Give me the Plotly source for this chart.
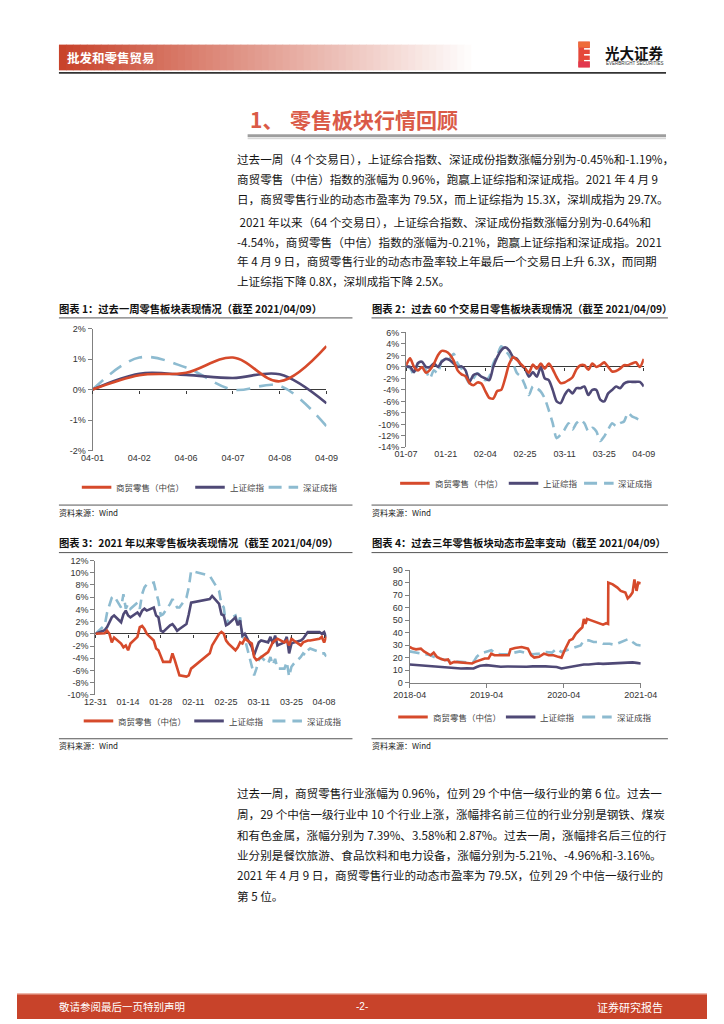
import plotly.graph_objects as go

W, H = 724, 1024
def X(px): return px / W
def Y(py): return 1 - py / H

RED = '#D64A2B'
PURPLE = '#4F4976'
BLUE = '#8DBBD0'
CJK = 'Noto Sans CJK SC'
NUM = 'Liberation Sans, Arial'

# ---------------- data ----------------
series_names = ['商贸零售（中信）', '上证综指', '深证成指']

# chart 1: past week (%)
c1_labels = ['04-01', '04-02', '04-06', '04-07', '04-08', '04-09']
c1_retail = [0.0, 0.47, 0.55, 1.05, 0.27, 1.42]
c1_sh = [0.0, 0.52, 0.48, 0.38, 0.50, -0.45]
c1_sz = [0.0, 1.05, 0.72, 0.0, 0.12, -1.20]

# chart 2: past 60 trading days (%), index 0 = 01-07
c2_tick_idx = [0, 10, 20, 30, 40, 50, 60]
c2_tick_labels = ['01-07', '01-21', '02-04', '02-25', '03-11', '03-25', '04-09']
c2_retail = [0.3, 1.5, 0.0, -0.6, 0.0, -1.0, -0.5, 0.5, 2.0, 2.8,
             2.7, 2.2, 1.1, -0.6, -1.3, -1.6, -2.8, -3.2, -2.7, -2.9,
             -4.2, -5.4, -5.5, -4.2, -4.0, -2.0, 0.5, 1.7, 1.2, 0.5,
             -0.2, -1.0, 0.4, -0.3, 0.6, -0.3, 0.6, -0.4, -1.8, -2.8,
             -2.7, -2.3, -1.8, -0.4, 0.3, 0.3, -0.5, 0.6, 0.0, 0.3,
             0.8, 0.0, -0.8, -0.7, -0.3, 0.3, 0.3, 0.6, 0.8, 0.0, 1.4]
c2_sh = [0.1, 0.0, -0.9, 0.7, 0.9, 0.0, 0.0, 0.6, 0.0, 0.9,
         1.4, 1.2, 0.6, 0.0, 0.1, -0.6, -2.6, -1.4, -1.2, -1.7,
         -2.0, -2.3, 0.0, 1.7, 2.9, 3.4, 2.9, 1.7, 1.4, 0.3,
         -0.3, -1.7, -0.9, -1.7, 0.0, -2.0, -2.3, -4.0, -6.0, -6.3,
         -4.9, -4.0, -4.6, -3.7, -3.7, -3.4, -4.9, -4.0, -4.0, -5.7,
         -6.0, -4.6, -4.0, -3.4, -3.7, -2.9, -2.6, -2.6, -2.6, -2.6, -3.4]
c2_sz = [0.1, -0.2, -1.4, 0.6, 0.6, -0.6, -2.0, -0.6, -1.1, 1.1,
         1.1, 1.4, 2.3, 0.6, -0.3, -1.7, -2.9, -2.0, -1.1, -1.7,
         -2.3, -1.7, 0.6, 2.0, 3.6, 2.9, 2.0, 0.6, -1.1, -1.7,
         -3.2, -4.9, -3.4, -3.7, -4.3, -5.5, -7.5, -9.8, -12.4, -11.8,
         -10.9, -9.8, -10.9, -9.8, -9.2, -9.8, -11.2, -10.6, -11.2, -12.9,
         -12.1, -10.9, -9.8, -10.3, -9.8, -9.5, -8.0, -8.6, -8.9, -9.2, -8.9]

# chart 3: since 2021 (%)
c3_dates = ['2020-12-31', '2021-01-04', '2021-01-05', '2021-01-06', '2021-01-07', '2021-01-08',
            '2021-01-11', '2021-01-12', '2021-01-13', '2021-01-14', '2021-01-15', '2021-01-18',
            '2021-01-19', '2021-01-20', '2021-01-21', '2021-01-22', '2021-01-25', '2021-01-26',
            '2021-01-27', '2021-01-28', '2021-01-29', '2021-02-01', '2021-02-02', '2021-02-03',
            '2021-02-04', '2021-02-05', '2021-02-08', '2021-02-09', '2021-02-10', '2021-02-18',
            '2021-02-19', '2021-02-22', '2021-02-23', '2021-02-24', '2021-02-25', '2021-02-26',
            '2021-03-01', '2021-03-02', '2021-03-03', '2021-03-04', '2021-03-05', '2021-03-08',
            '2021-03-09', '2021-03-10', '2021-03-11', '2021-03-12', '2021-03-15', '2021-03-16',
            '2021-03-17', '2021-03-18', '2021-03-19', '2021-03-22', '2021-03-23', '2021-03-24',
            '2021-03-25', '2021-03-26', '2021-03-29', '2021-03-30', '2021-03-31', '2021-04-01',
            '2021-04-02', '2021-04-06', '2021-04-07', '2021-04-08', '2021-04-09']
c3_tick_dates = ['2020-12-31', '2021-01-14', '2021-01-28', '2021-02-11', '2021-02-25',
                 '2021-03-11', '2021-03-25', '2021-04-08']
c3_tick_labels = ['12-31', '01-14', '01-28', '02-11', '02-25', '03-11', '03-25', '04-08']
c3_retail = [0.0, 0.1, 0.5, 0.0, -1.4, -0.6, -1.6, -2.2, -1.9, -2.7, -1.6, -0.5, 1.1, 1.3, 0.8,
             0.0, -1.1, -2.4, -2.7, -3.8, -4.6,
             -4.6, -3.2, -4.3, -5.4, -6.8, -7.0, -6.8, -5.7, -3.2, -1.9, 0.0, 0.3, 0.0, -1.1, -1.6,
             -2.7, -2.2, -1.4, -1.6, -0.8, -1.6, -3.8, -4.3, -4.1, -3.8, -3.0, -2.2, -1.4, -1.1,
             -0.8, -1.4, -1.1, -1.9, -0.8, -1.1, -1.9, -1.4, -1.2,
             -1.1, -1.1, -0.8, -0.5, -1.4, -0.5]
c3_sh = [0.0, 0.6, 1.1, 1.9, 2.7, 3.0, 1.9, 3.2, 3.8, 3.0, 2.7, 3.5, 3.0, 3.8, 4.1,
         3.8, 4.3, 3.0, 2.7, 0.5, 0.3,
         1.4, 1.6, 1.1, 0.5, 0.8, 1.6, 3.2, 5.1, 5.7, 6.2, 4.9, 3.2, 3.0, 1.4, 1.6,
         2.7, 1.4, 2.2, -0.3, 0.0, -2.2, -3.5, -2.4, -1.4, -1.1, -1.4, -0.5, -1.6, -0.3,
         -1.9, -1.4, -0.5, -3.2, -1.6, -1.4, -1.1, -0.8, -0.3,
         0.3, 0.3, 0.3, 0.0, 0.3, -0.6]
c3_sz = [0.0, 1.4, 3.5, 4.9, 5.9, 6.2, 4.3, 6.5, 4.1, 4.9, 4.1, 5.1, 4.1, 6.5, 7.6,
         8.1, 8.4, 6.8, 5.4, 3.0, 3.2,
         4.9, 5.7, 5.0, 4.3, 4.3, 5.9, 7.6, 10.3, 9.5, 8.9, 7.0, 4.9, 4.3, 1.4, 2.4,
         3.0, 1.4, 2.7, -0.5, -0.8, -5.1, -6.8, -5.7, -4.3, -3.8, -4.9, -3.8, -5.1, -4.1,
         -5.7, -5.7, -4.6, -7.0, -5.4, -4.9, -3.8, -3.2, -3.5,
         -2.7, -2.4, -3.0, -3.2, -3.2, -3.7]

# chart 4: dynamic PE, last three years
c4_tick_dates = ['2018-04-09', '2019-04-09', '2020-04-09', '2021-04-09']
c4_tick_labels = ['2018-04', '2019-04', '2020-04', '2021-04']
c4_retail_dates = ['2018-04-09', '2018-04-24', '2018-05-09', '2018-06-01', '2018-06-16', '2018-07-01',
                   '2018-07-17', '2018-08-01', '2018-08-16', '2018-08-31', '2018-09-23', '2018-10-08',
                   '2018-10-19', '2018-11-07', '2018-12-08', '2019-01-07', '2019-01-30', '2019-02-14',
                   '2019-03-09', '2019-03-31', '2019-04-18', '2019-05-01', '2019-05-16', '2019-06-15',
                   '2019-07-08', '2019-07-23', '2019-07-31', '2019-08-22', '2019-09-22', '2019-10-22',
                   '2019-11-06', '2019-11-21', '2019-12-14', '2020-01-06', '2020-01-28', '2020-02-20',
                   '2020-03-14', '2020-03-29', '2020-04-13', '2020-05-06', '2020-05-21', '2020-06-05',
                   '2020-06-20', '2020-07-06', '2020-07-13', '2020-07-21', '2020-07-28', '2020-08-12',
                   '2020-09-04', '2020-09-27', '2020-10-12', '2020-10-27', '2020-11-05', '2020-11-06',
                   '2020-11-27', '2020-12-19', '2021-01-04', '2021-01-26', '2021-02-06', '2021-02-18',
                   '2021-03-01', '2021-03-10', '2021-03-20', '2021-03-28', '2021-04-09']
c4_retail = [28.5, 27.2, 26.6, 27.2, 25.0, 23.2, 21.9, 24.0, 20.6, 19.3, 18.0, 18.5,
             15.3, 16.6, 16.1, 15.8, 15.3, 16.6, 18.0, 19.3, 19.3, 23.2, 21.9, 21.9,
             21.9, 21.9, 26.6, 27.7, 28.5, 27.2, 21.9, 20.0, 20.6, 23.2, 21.9, 21.9,
             20.6, 20.0, 25.9, 33.8, 35.0, 39.0, 41.7, 44.3, 51.0, 47.0, 51.0, 50.0,
             49.0, 47.5, 46.4, 47.5, 47.0, 80.0, 78.6, 76.0, 73.4, 72.0, 67.3, 69.4,
             72.0, 82.6, 73.4, 80.0, 79.5]
c4_idx_dates = ['2018-04-09', '2018-06-01', '2018-07-17', '2018-08-16', '2018-09-23', '2018-10-31',
                '2018-12-08', '2019-01-07', '2019-02-06', '2019-02-21', '2019-03-09', '2019-04-08',
                '2019-05-01', '2019-05-24', '2019-06-15', '2019-07-16', '2019-08-15', '2019-09-14',
                '2019-10-15', '2019-11-14', '2019-12-14', '2020-01-13', '2020-02-13', '2020-03-06',
                '2020-03-29', '2020-04-21', '2020-05-14', '2020-06-05', '2020-06-28', '2020-07-13',
                '2020-08-05', '2020-08-28', '2020-09-20', '2020-10-12', '2020-11-12', '2020-12-05',
                '2020-12-28', '2021-01-19', '2021-02-11', '2021-03-01', '2021-03-20', '2021-04-09']
c4_sh = [14.5, 13.8, 13.2, 12.7, 12.2, 11.8, 11.3, 11.5, 11.3, 12.5, 13.5, 14.0,
         13.5, 13.0, 12.7, 12.9, 12.7, 12.9, 12.7, 13.0, 13.2, 13.0, 12.7, 12.5,
         11.3, 12.0, 12.7, 13.2, 14.0, 14.5, 14.5, 15.0, 15.3, 15.0, 15.3, 15.5,
         15.8, 16.0, 16.6, 16.2, 15.8, 15.3]
c4_sz = [25.0, 23.2, 21.9, 19.3, 18.0, 17.2, 16.6, 16.1, 16.6, 20.6, 23.2, 24.5,
         25.9, 23.2, 22.7, 22.7, 23.7, 25.0, 23.7, 22.7, 23.2, 24.5, 24.0, 27.2,
         24.5, 25.9, 27.2, 28.5, 29.8, 33.8, 33.8, 32.5, 32.5, 31.1, 31.1, 30.3,
         31.9, 33.8, 35.0, 32.5, 30.3, 29.7]

pct_vals_1 = [-2, -1, 0, 1, 2]
pct_vals_2 = list(range(-14, 7, 2))
pct_vals_3 = list(range(-10, 13, 2))
pe_vals = list(range(0, 91, 10))

# ---------------- figure ----------------
fig = go.Figure()

def add_line(x, y, color, xa, ya, dash='solid', shape='linear', smoothing=None, width=2.6):
    line = dict(color=color, width=width, dash=dash, shape=shape)
    if smoothing is not None:
        line['smoothing'] = smoothing
    fig.add_trace(go.Scatter(x=x, y=y, mode='lines', line=line, xaxis=xa, yaxis=ya,
                             showlegend=False, hoverinfo='skip'))

c1_x = list(range(len(c1_labels)))
add_line(c1_x, c1_sz, BLUE, 'x', 'y', dash='14px,9px', shape='spline', smoothing=1.0)
add_line(c1_x, c1_sh, PURPLE, 'x', 'y', shape='spline', smoothing=1.0)
add_line(c1_x, c1_retail, RED, 'x', 'y', shape='spline', smoothing=1.0)

c2_x = list(range(len(c2_retail)))
add_line(c2_x, c2_sz, BLUE, 'x2', 'y2', dash='10px,6px', shape='spline', smoothing=0.7)
add_line(c2_x, c2_sh, PURPLE, 'x2', 'y2', shape='spline', smoothing=0.7)
add_line(c2_x, c2_retail, RED, 'x2', 'y2', shape='spline', smoothing=0.7)

add_line(c3_dates, c3_sz, BLUE, 'x3', 'y3', dash='10px,6px')
add_line(c3_dates, c3_sh, PURPLE, 'x3', 'y3')
add_line(c3_dates, c3_retail, RED, 'x3', 'y3')

add_line(c4_idx_dates, c4_sz, BLUE, 'x4', 'y4', dash='10px,6px')
add_line(c4_idx_dates, c4_sh, PURPLE, 'x4', 'y4')
add_line(c4_retail_dates, c4_retail, RED, 'x4', 'y4')

# empty traces that carry the zero-line tick axes
fig.add_trace(go.Scatter(x=[], y=[], xaxis='x5', yaxis='y', showlegend=False, hoverinfo='skip'))
fig.add_trace(go.Scatter(x=[], y=[], xaxis='x6', yaxis='y2', showlegend=False, hoverinfo='skip'))
fig.add_trace(go.Scatter(x=[], y=[], xaxis='x7', yaxis='y3', showlegend=False, hoverinfo='skip'))

tickfont = dict(family=NUM, size=9, color='#333333')

def yax(domain, rng, vals, texts, anchor, zero=True):
    return dict(domain=domain, range=rng, tickvals=vals, ticktext=texts, anchor=anchor,
                showline=True, linecolor='#808080', linewidth=1, ticks='outside', ticklen=4,
                tickcolor='#808080', showgrid=False, zeroline=zero, zerolinecolor='#3a3a3a',
                zerolinewidth=1, tickfont=tickfont, fixedrange=True)

def xax(domain, rng, vals, texts, anchor, typ='linear', line=False):
    return dict(domain=domain, range=rng, tickvals=vals, ticktext=texts, anchor=anchor, type=typ,
                showline=line, linecolor='#808080', linewidth=1, ticks='outside' if line else '',
                ticklen=4, tickcolor='#808080', showgrid=False, zeroline=False, tickfont=tickfont,
                fixedrange=True)

def zero_ticks(over, pos, rng, vals, typ='linear'):
    return dict(overlaying=over, anchor='free', position=pos, range=rng, tickvals=vals, type=typ,
                showticklabels=False, ticks='outside', ticklen=3, tickcolor='#3a3a3a',
                showline=False, showgrid=False, zeroline=False, fixedrange=True)

pct = lambda v: f'{v}%'

layout = dict(
    width=W, height=H, margin=dict(l=0, r=0, t=0, b=0),
    paper_bgcolor='white', plot_bgcolor='rgba(0,0,0,0)', showlegend=False,
    xaxis=xax([X(79.3), X(324.7)], [0, len(c1_labels) - 1], c1_x, c1_labels, 'y'),
    yaxis=yax([Y(450), Y(326.7)], [-2, 2], pct_vals_1, [pct(v) for v in pct_vals_1], 'x'),
    xaxis2=xax([X(408.3), X(657.7)], [0, len(c2_retail) - 1], c2_tick_idx, c2_tick_labels, 'y2'),
    yaxis2=yax([Y(446.7), Y(330.7)], [-14, 6], pct_vals_2, [pct(v) for v in pct_vals_2], 'x2'),
    xaxis3=xax([X(82.3), X(324.7)], [c3_dates[0], c3_dates[-1]], c3_tick_dates, c3_tick_labels, 'y3', typ='date'),
    yaxis3=yax([Y(696.7), Y(561)], [-10, 12], pct_vals_3, [pct(v) for v in pct_vals_3], 'x3'),
    xaxis4=xax([X(412), X(654.5)], [c4_tick_dates[0], c4_tick_dates[-1]], c4_tick_dates, c4_tick_labels, 'y4', typ='date', line=True),
    yaxis4=yax([Y(684.3), Y(570.7)], [0, 90], pe_vals, [str(v) for v in pe_vals], 'x4', zero=False),
    xaxis5=zero_ticks('x', Y(388.3), [0, len(c1_labels) - 1], c1_x),
    xaxis6=zero_ticks('x2', Y(365.3), [0, len(c2_retail) - 1], c2_tick_idx),
    xaxis7=zero_ticks('x3', Y(635), [c3_dates[0], c3_dates[-1]], c3_tick_dates, typ='date'),
)
fig.update_layout(**layout)

shapes = []
ann = []

def rect(x0, y0, x1, y1, color):
    shapes.append(dict(type='rect', xref='paper', yref='paper', x0=X(x0), x1=X(x1),
                       y0=Y(y1), y1=Y(y0), fillcolor=color, line=dict(width=0), layer='below'))

def hline(x0, x1, y, color, width=1, dash='solid'):
    shapes.append(dict(type='line', xref='paper', yref='paper', x0=X(x0), x1=X(x1),
                       y0=Y(y), y1=Y(y), line=dict(color=color, width=width, dash=dash)))

def text(x, y, s, size=12, color='#111111', family=CJK, xanchor='left'):
    ann.append(dict(x=X(x), y=Y(y), xref='paper', yref='paper', text=s, showarrow=False,
                    xanchor=xanchor, yanchor='middle', font=dict(family=family, size=size, color=color)))

# header gradient band
n = 60
bx0, bx1 = 44, 484
c0 = (200, 67, 43)
for i in range(n):
    t = i / (n - 1)
    col = tuple(int(round(c0[k] + (255 - c0[k]) * t)) for k in range(3))
    xa = bx0 + (bx1 - bx0) * i / n
    xb = bx0 + (bx1 - bx0) * (i + 1) / n + 0.6
    rect(xa, 40, xb, 66, 'rgb(%d,%d,%d)' % col)
text(50, 53, '<b>批发和零售贸易</b>', size=12.5, color='white')
hline(44, 681, 68.5, '#333333', width=1.6)

# logo
rect(589, 37, 601, 63, '#E5483A')
rect(589, 37, 601, 43, '#EE6B3A')
for yy in (43.5, 49.5, 55.5):
    rect(595, yy, 601.5, yy + 1.6, 'white')
rect(589, 57, 601, 63, '#E2374E')
text(615, 48, '<b>光大证券</b>', size=14.5, color='#111111')
text(616, 59.5, 'EVERBRIGHT SECURITIES', size=4.5, color='#333333', family=NUM)

# section title
text(242, 115, '<b>1、</b>', size=21, color='#DA5A47')
text(284, 115, '<b>零售板块行情回顾</b>', size=21, color='#DA5A47')
rect(242, 130.5, 681, 133.5, '#9E9E9E')
hline(242, 681, 135, '#D0D0D0', width=1)

# paragraphs
p1 = ['过去一周（4 个交易日），上证综合指数、深证成份指数涨幅分别为-0.45%和-1.19%，',
      '商贸零售（中信）指数的涨幅为 0.96%，跑赢上证综指和深证成指。2021 年 4 月 9',
      '日，商贸零售行业的动态市盈率为 79.5X，而上证综指为 15.3X，深圳成指为 29.7X。']
p1_y = [156, 176, 196]
p2 = ['\u00a02021 年以来（64 个交易日），上证综合指数、深证成份指数涨幅分别为-0.64%和',
      '-4.54%，商贸零售（中信）指数的涨幅为-0.21%，跑赢上证综指和深证成指。2021',
      '年 4 月 9 日，商贸零售行业的动态市盈率较上年最后一个交易日上升 6.3X，而同期',
      '上证综指下降 0.8X，深圳成指下降 2.5X。']
p2_y = [219, 239, 259, 279]
p3 = ['过去一周，商贸零售行业涨幅为 0.96%，位列 29 个中信一级行业的第 6 位。过去一',
      '周，29 个中信一级行业中 10 个行业上涨，涨幅排名前三位的行业分别是钢铁、煤炭',
      '和有色金属，涨幅分别为 7.39%、3.58%和 2.87%。过去一周，涨幅排名后三位的行',
      '业分别是餐饮旅游、食品饮料和电力设备，涨幅分别为-5.21%、-4.96%和-3.16%。',
      '2021 年 4 月 9 日，商贸零售行业的动态市盈率为 79.5X，位列 29 个中信一级行业的',
      '第 5 位。']
p3_y = [796, 817, 838, 858, 879, 900]
for lines, ys in ((p1, p1_y), (p2, p2_y), (p3, p3_y)):
    for s, yy in zip(lines, ys):
        text(229, yy, s, size=11.6, color='#151515')

# chart frames
titles = ['图表 1：过去一周零售板块表现情况（截至 2021/04/09）',
          '图表 2：过去 60 个交易日零售板块表现情况（截至 2021/04/09）',
          '图表 3：2021 年以来零售板块表现情况（截至 2021/04/09）',
          '图表 4：过去三年零售板块动态市盈率变动（截至 2021/04/09）']
frames = [(44, 352, 306, 316, 505, 512, 487),
          (372, 683, 306, 316, 505, 512, 483),
          (44, 352, 543, 553, 741, 748, 723),
          (372, 683, 543, 553, 741, 748, 719)]
legend_offsets = [(68, 187, 264), (402, 516, 595), (70, 186, 268), (400, 513, 593)]
for ttl, (fx0, fx1, ty, tl, sl, sy, ly), offs in zip(titles, frames, legend_offsets):
    text(fx0 - 2, ty, '<b>' + ttl + '</b>', size=10.3, color='#111111')
    hline(fx0, fx1, tl, '#555555', width=1)
    hline(fx0, fx1, sl, '#555555', width=1)
    text(fx0 - 2, sy, '资料来源：Wind', size=8, color='#222222')
    for name, color, dash, lx in zip(series_names, [RED, PURPLE, BLUE],
                                     ['solid', 'solid', '13px,7px'], offs):
        hline(lx, lx + 31, ly, color, width=3, dash=dash)
        text(lx + 34, ly, name, size=8.5, color='#444444')

# footer
rect(0, 999, 724, 1024, '#C8432A')
hline(0, 724, 998.5, '#E9A08F', width=1)
text(42, 1011.5, '敬请参阅最后一页特别声明', size=10.5, color='white')
text(362, 1011.5, '-2-', size=10, color='white', family=NUM, xanchor='center')
text(607, 1011.5, '证券研究报告', size=11, color='white')

fig.update_layout(shapes=shapes, annotations=ann)
fig.write_html('out.html', config={'displayModeBar': False},
               post_script="document.body.style.margin='0';document.body.style.overflow='hidden';")
